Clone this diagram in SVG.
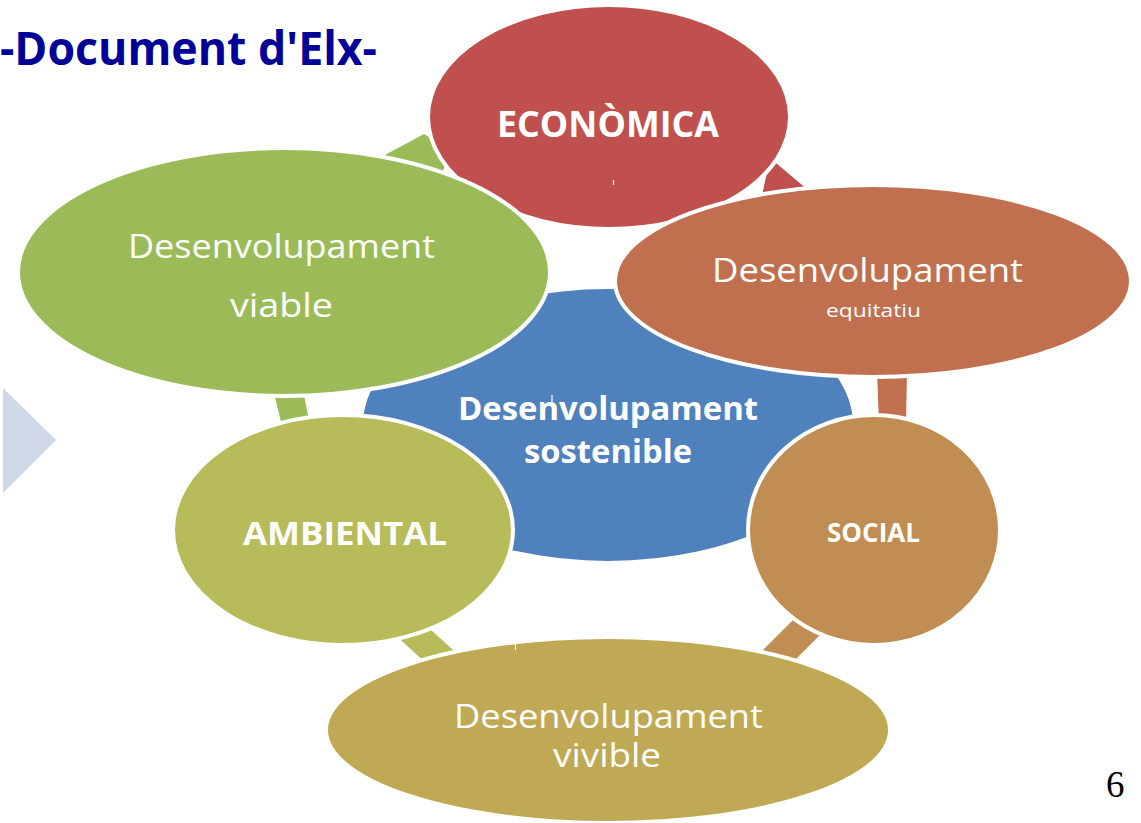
<svg xmlns="http://www.w3.org/2000/svg" width="1141" height="823" viewBox="0 0 1141 823">
<style>
.node{stroke:#ffffff;stroke-width:4}
.conn{stroke:none}
.t{font-family:"Open Sans","Liberation Sans",sans-serif;fill:#ffffff;text-anchor:start}
.b{font-weight:bold}
.tick{stroke:#ffffff;stroke-width:1.2}
</style>
<rect width="1141" height="823" fill="#ffffff"/>
<text x="0" y="65" font-family="'Open Sans','Liberation Sans',sans-serif" font-weight="bold" font-size="46" fill="#000099" textLength="377" lengthAdjust="spacingAndGlyphs">-Document d'Elx-</text>
<polygon points="3,388 56,440 3,493" fill="#D0D8E8"/>
<g id="connectors">
<polygon class="conn" points="385,155 424,134 450,150 440,180 400,175" fill="#9BBB59"/>
<polygon class="conn" points="770,158 808,190 760,205" fill="#C0504D"/>
<polygon class="conn" points="877,370 907,370 906,425 879,425" fill="#C0704F"/>
<polygon class="conn" points="800,613 830,625 785,670 750,663" fill="#C08D52"/>
<polygon class="conn" points="390,630 420,620 462,658 430,667" fill="#B7BB59"/>
<polygon class="conn" points="272,385 302,385 311,430 283,430" fill="#9BBB59"/>
</g>
<g id="node-center">
<ellipse class="node" cx="608" cy="425" rx="247" ry="138" fill="#4F81BD"/>
<text class="t b" x="458" y="420" font-size="32" textLength="300" lengthAdjust="spacingAndGlyphs">Desenvolupament</text>
<text class="t b" x="524" y="463" font-size="32" textLength="168" lengthAdjust="spacingAndGlyphs">sostenible</text>
<line class="tick" x1="552" y1="395" x2="552" y2="403"/>
<line class="tick" x1="747" y1="408" x2="747" y2="415"/>
</g>
<g id="node-economica">
<ellipse class="node" cx="609" cy="117" rx="181" ry="112" fill="#C0504D"/>
<text class="t b" x="497" y="137" font-size="36" textLength="222" lengthAdjust="spacingAndGlyphs">ECONÒMICA</text>
<line class="tick" x1="613.5" y1="180" x2="613.5" y2="185"/>
</g>
<g id="node-viable">
<ellipse class="node" cx="284" cy="272" rx="266" ry="124" fill="#9BBB59"/>
<text class="t" x="128" y="258" font-size="32" textLength="307" lengthAdjust="spacingAndGlyphs">Desenvolupament</text>
<text class="t" x="230" y="317" font-size="32" textLength="103" lengthAdjust="spacingAndGlyphs">viable</text>
</g>
<g id="node-equitatiu">
<ellipse class="node" cx="873" cy="281" rx="258" ry="96" fill="#C0704F"/>
<text class="t" x="712" y="282" font-size="32" textLength="311" lengthAdjust="spacingAndGlyphs">Desenvolupament</text>
<text class="t" x="826" y="317" font-size="19" textLength="95" lengthAdjust="spacingAndGlyphs">equitatiu</text>
</g>
<g id="node-ambiental">
<ellipse class="node" cx="343" cy="530" rx="170" ry="115" fill="#B7BB59"/>
<text class="t b" x="243" y="545" font-size="32" textLength="204" lengthAdjust="spacingAndGlyphs">AMBIENTAL</text>
</g>
<g id="node-social">
<ellipse class="node" cx="874" cy="530" rx="126" ry="115" fill="#C08D52"/>
<text class="t b" x="827" y="542" font-size="26" textLength="93" lengthAdjust="spacingAndGlyphs">SOCIAL</text>
</g>
<g id="node-vivible">
<ellipse class="node" cx="608" cy="730" rx="282" ry="93" fill="#BFA955"/>
<text class="t" x="454" y="728" font-size="32" textLength="309" lengthAdjust="spacingAndGlyphs">Desenvolupament</text>
<text class="t" x="553" y="767" font-size="32" textLength="108" lengthAdjust="spacingAndGlyphs">vivible</text>
<line class="tick" x1="515.5" y1="644" x2="515.5" y2="650"/>
</g>
<text x="1106" y="797" font-family="'Liberation Serif',serif" font-size="37" fill="#000000">6</text>
</svg>
